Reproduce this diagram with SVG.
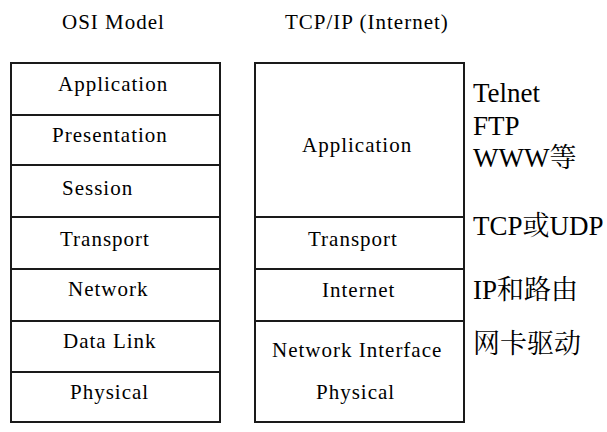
<svg xmlns="http://www.w3.org/2000/svg" width="607" height="432" viewBox="0 0 607 432">
<style>
rect.layer{fill:#fff;stroke:#1a1a1a;stroke-width:2}
text.t{font-family:'Liberation Serif',serif;font-size:21px;fill:#000;letter-spacing:1px}
text.n{font-family:'Liberation Serif','Noto Serif CJK SC','Noto Sans CJK SC',serif;font-size:27px;fill:#000}
</style>
<rect width="607" height="432" fill="#fff"/>
<g id="titles">
<text class="t" x="62" y="29">OSI Model</text>
<text class="t" x="285" y="29">TCP/IP (Internet)</text>
</g>
<g id="osi">
<g id="osi-application"><rect class="layer" x="11" y="63" width="209" height="52"/><text class="t" x="58" y="91">Application</text></g>
<g id="osi-presentation"><rect class="layer" x="11" y="115" width="209" height="50"/><text class="t" x="52" y="142">Presentation</text></g>
<g id="osi-session"><rect class="layer" x="11" y="165" width="209" height="52"/><text class="t" x="62" y="195">Session</text></g>
<g id="osi-transport"><rect class="layer" x="11" y="217" width="209" height="52"/><text class="t" x="60" y="246">Transport</text></g>
<g id="osi-network"><rect class="layer" x="11" y="269" width="209" height="52"/><text class="t" x="68" y="296">Network</text></g>
<g id="osi-datalink"><rect class="layer" x="11" y="321" width="209" height="51"/><text class="t" x="63" y="348">Data Link</text></g>
<g id="osi-physical"><rect class="layer" x="11" y="372" width="209" height="50"/><text class="t" x="70" y="399">Physical</text></g>
</g>
<g id="tcpip">
<g id="tcp-application"><rect class="layer" x="255" y="63" width="209" height="154"/><text class="t" x="302" y="152">Application</text></g>
<g id="tcp-transport"><rect class="layer" x="255" y="217" width="209" height="52"/><text class="t" x="308" y="246">Transport</text></g>
<g id="tcp-internet"><rect class="layer" x="255" y="269" width="209" height="52"/><text class="t" x="322" y="297">Internet</text></g>
<g id="tcp-netif"><rect class="layer" x="255" y="321" width="209" height="101"/><text class="t" x="272" y="357">Network Interface</text><text class="t" x="316" y="399">Physical</text></g>
</g>
<g id="notes">
<text class="n" x="473" y="102">Telnet</text>
<text class="n" x="473" y="135">FTP</text>
<text class="n" x="473" y="167">WWW等</text>
<text class="n" x="473" y="235">TCP或UDP</text>
<text class="n" x="473" y="299">IP和路由</text>
<text class="n" x="473" y="353">网卡驱动</text>
</g>
<g id="connectors"/>
</svg>
